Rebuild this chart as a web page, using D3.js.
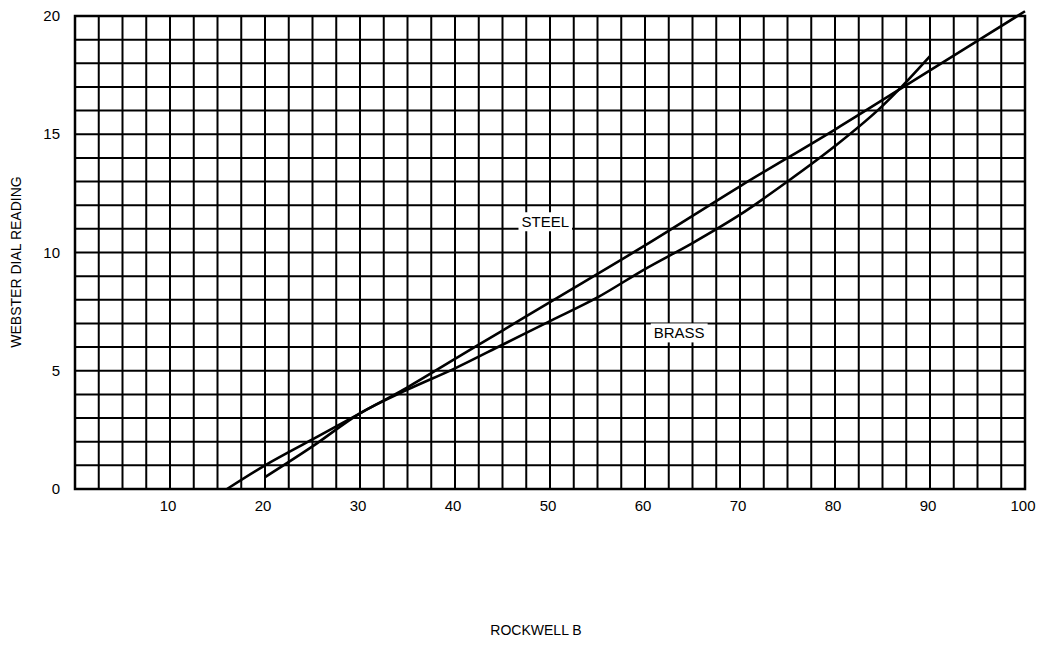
<!DOCTYPE html>
<html><head><meta charset="utf-8">
<script src="https://cdn.jsdelivr.net/npm/d3@7"></script>
<style>
html,body{margin:0;padding:0;background:#fff;}
svg text{font-family:"Liberation Sans",Arial,Helvetica,sans-serif;fill:#000;}
</style></head>
<body>
<svg id="chart" width="1044" height="646"></svg>
<script>
// Data
const xTicks = [10, 20, 30, 40, 50, 60, 70, 80, 90, 100];
const yTicks = [0, 5, 10, 15, 20];
const steelRockwell = [16, 20, 25, 30, 35, 40, 45, 50, 60, 70, 80, 90, 100];
const steelWebster  = [0, 1.0, 2.1, 3.2, 4.3, 5.5, 6.7, 7.9, 10.3, 12.8, 15.2, 17.7, 20.2];
const brassRockwell = [20, 25, 30, 35, 40, 45, 50, 55, 60, 65, 70, 75, 80, 85, 87, 90];
const brassWebster  = [0.5, 1.8, 3.2, 4.2, 5.1, 6.1, 7.1, 8.1, 9.3, 10.4, 11.6, 13.0, 14.5, 16.2, 17.0, 18.3];
const labels = [{text: "STEEL", x: 49.5, y: 11.3}, {text: "BRASS", x: 63.6, y: 6.6}];

const svg = d3.select("#chart");
const x = d3.scaleLinear().domain([0, 100]).range([75, 1025]);
const y = d3.scaleLinear().domain([0, 20]).range([489, 16]);

// grid
const g = svg.append("g");
g.selectAll("line.v").data(d3.range(0, 100.001, 2.5)).enter().append("line")
  .attr("x1", d => x(d)).attr("x2", d => x(d)).attr("y1", y(0)).attr("y2", y(20))
  .attr("stroke", "#000").attr("stroke-width", 2);
g.selectAll("line.h").data(d3.range(0, 20.001, 1)).enter().append("line")
  .attr("x1", x(0) - 1).attr("x2", x(100) + 1).attr("y1", d => y(d)).attr("y2", d => y(d))
  .attr("stroke", "#000").attr("stroke-width", 2);
g.append("rect").attr("x", x(0)).attr("y", y(20)).attr("width", x(100) - x(0)).attr("height", y(0) - y(20))
  .attr("fill", "none").attr("stroke", "#000").attr("stroke-width", 2.5);

// series
const line = d3.line().x(d => x(d[0])).y(d => y(d[1])).curve(d3.curveMonotoneX);
const steel = steelRockwell.map((r, i) => [r, steelWebster[i]]);
const brass = brassRockwell.map((r, i) => [r, brassWebster[i]]);
[steel, brass].forEach(s => {
  svg.append("path").datum(s).attr("d", line).attr("fill", "none")
    .attr("stroke", "#000").attr("stroke-width", 2.6).attr("stroke-linejoin", "round");
});

// labels with white boxes
labels.forEach(l => {
  const t = svg.append("text").attr("x", x(l.x)).attr("y", y(l.y))
    .attr("text-anchor", "middle").attr("dominant-baseline", "central")
    .attr("font-size", 15).text(l.text);
  const bb = t.node().getBBox();
  svg.insert("rect", "text").attr("x", bb.x - 3).attr("y", bb.y - 1)
    .attr("width", bb.width + 6).attr("height", bb.height + 2).attr("fill", "#fff");
});

// ticks
svg.selectAll("text.xt").data(xTicks).enter().append("text")
  .attr("x", d => x(d) - 2).attr("y", 511).attr("text-anchor", "middle")
  .attr("font-size", 15).text(d => d);
svg.selectAll("text.yt").data(yTicks).enter().append("text")
  .attr("x", 60).attr("y", d => y(d) + 5).attr("text-anchor", "end")
  .attr("font-size", 15).text(d => d);

// axis titles
svg.append("text").attr("x", 536).attr("y", 635).attr("text-anchor", "middle")
  .attr("font-size", 14).text("ROCKWELL B");
svg.append("text").attr("transform", "translate(21,262) rotate(-90)")
  .attr("text-anchor", "middle").attr("font-size", 14).text("WEBSTER DIAL READING");
</script>
</body></html>
